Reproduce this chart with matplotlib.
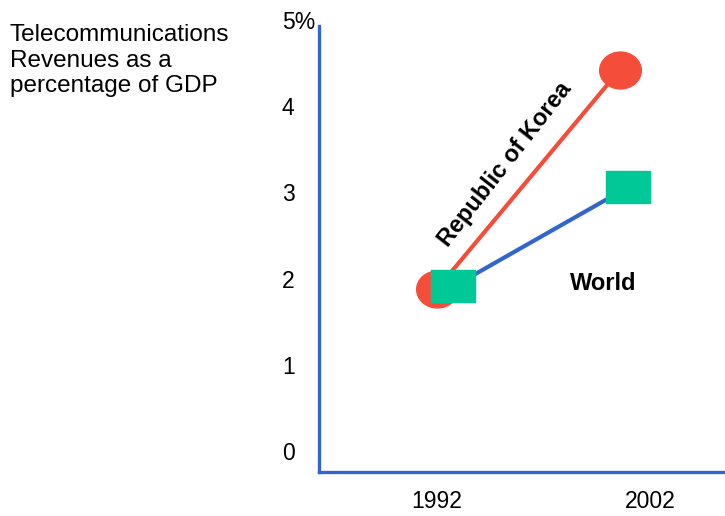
import matplotlib.pyplot as plt
import numpy as np
from matplotlib.path import Path
from matplotlib.transforms import ScaledTranslation

plt.rcParams['font.family'] = ['Liberation Sans', 'DejaVu Sans']

years = [1992, 2002]
korea = [1.88, 4.42]
world = [1.91, 3.06]
world_dodge = [0.9, 0.45]   # world markers sit a bit right of korea's
yticks = [0, 1, 2, 3, 4, 5]
ytick_labels = ['0', '1', '2', '3', '4', '5%']
xtick_labels = ['1992', '2002']

red = '#F44E3B'
green = '#00C896'
blue = '#3366CC'

# slightly wide ellipse and flat rectangle markers
circ = Path.unit_circle()
ellipse = Path(circ.vertices * [1.13, 1.0], circ.codes)
rect = Path([(-22, -15.5), (22, -15.5), (22, 15.5), (-22, 15.5), (-22, -15.5)],
            [Path.MOVETO, Path.LINETO, Path.LINETO, Path.LINETO, Path.CLOSEPOLY])

fig = plt.figure(figsize=(7.25, 5.16), dpi=100)
ax = fig.add_axes([319.3 / 725, 44.3 / 516, 1 - 319.3 / 725, (471.7 - 19.5) / 516])

ax.plot(years, korea, color=red, lw=3, marker=ellipse, ms=30, mfc=red, mec=red)
wx = np.array(years) + np.array(world_dodge)
ax.plot(wx, world, color=blue, lw=3, marker=rect, ms=32, mfc=green, mec=green)

ax.set_xlim(1985.57, 2007.74)
ax.set_ylim(-0.234, 5.0)

for s in ['top', 'right']:
    ax.spines[s].set_visible(False)
for s in ['left', 'bottom']:
    ax.spines[s].set_color(blue)
    ax.spines[s].set_linewidth(2.4)
ax.spines['left'].set_bounds(-0.234, 4.925)

ax.set_yticks(yticks)
ax.set_yticklabels(ytick_labels, ha='left', fontsize=16.5)
ax.tick_params(axis='y', length=0, pad=27)
ax.set_xticks(years)
ax.set_xticklabels(xtick_labels, fontsize=16.5)
ax.tick_params(axis='x', length=0, pad=13)
# the 2002 label sits right of its point in the original
lab = ax.get_xticklabels()[1]
lab.set_transform(lab.get_transform() + ScaledTranslation(0.30, 0, fig.dpi_scale_trans))

ax.text(1995.70, 3.32, 'Republic of Korea', rotation=52, rotation_mode='anchor',
        ha='center', va='center', fontsize=17, fontweight='bold')
ax.text(2001.07, 1.94, 'World', ha='center', va='center', fontsize=17, fontweight='bold')

fig.text(10 / 725, 1 - 24 / 516, 'Telecommunications\nRevenues as a\npercentage of GDP',
         ha='left', va='top', fontsize=17.5, linespacing=1.22)

fig.savefig('out.png', dpi=100)
